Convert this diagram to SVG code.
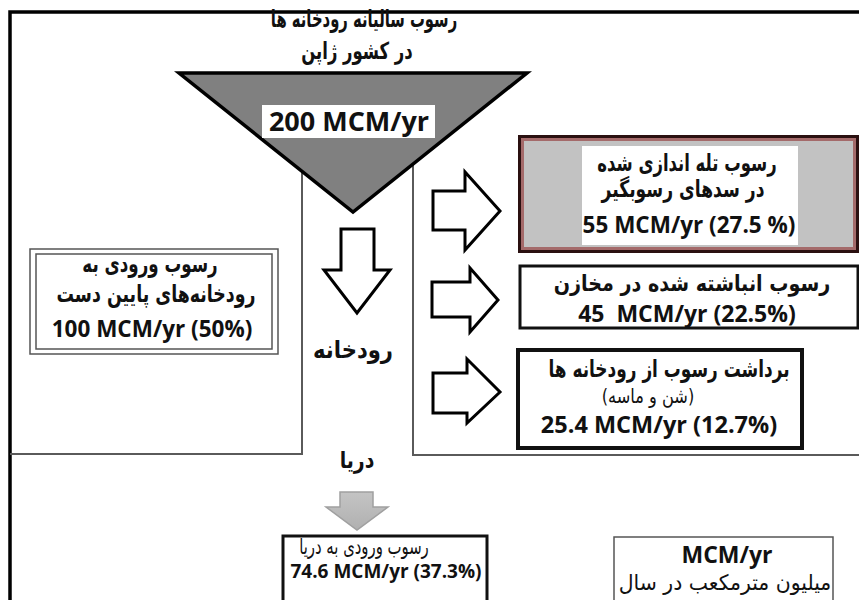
<svg xmlns="http://www.w3.org/2000/svg" width="859" height="600" viewBox="0 0 859 600">
  <defs>
    <linearGradient id="grayFlow" x1="0" y1="0" x2="0" y2="1">
      <stop offset="0" stop-color="#c4c4c4"/>
      <stop offset="1" stop-color="#b0b0b0"/>
    </linearGradient>
    <style>
      .fa { font-family: "DejaVu Sans", sans-serif; font-weight: bold; fill: #111; text-anchor: middle; }
      .fa-r { font-family: "DejaVu Sans", sans-serif; font-weight: normal; fill: #111; text-anchor: middle; }
      .num { font-family: "Open Sans", "DejaVu Sans", sans-serif; font-weight: bold; fill: #111; text-anchor: middle; }
      .box { fill: #fff; stroke: #111; }
      .thin { fill: #fff; stroke: #555; stroke-width: 1.5; }
      .arrow { fill: #fff; stroke: #000; stroke-width: 3; stroke-linejoin: miter; }
      .river { fill: none; stroke: #5a5a5a; stroke-width: 2; }
    </style>
  </defs>
  <rect width="859" height="600" fill="#fff"/>

  <!-- outer frame -->
  <path d="M10,600 V12 H859" fill="none" stroke="#000" stroke-width="3.5"/>

  <!-- river channel borders and flow arrows -->
  <g id="connectors">
    <path class="river" d="M10,454 H302 V165"/>
    <path class="river" d="M413,165 V455 H859"/>
    <polygon class="arrow" points="341,229 374,229 374,270 390,270 357,313 324,270 341,270"/>
    <polygon class="arrow" points="433,191 465,191 465,172 500,211 465,250 465,230 433,230"/>
    <polygon class="arrow" points="432,282 470,282 470,268 498,300 470,332 470,317 432,317"/>
    <polygon class="arrow" points="433,373 467,373 467,359 500,392 467,423 467,413 433,413"/>
    <polygon points="340,492 373,492 373,507 388,507 357,530 326,507 340,507" fill="url(#grayFlow)" stroke="#a0a0a0" stroke-width="1.5"/>
  </g>

  <!-- source: annual river sediment (Persian lines narrowed horizontally) -->
  <g id="source">
    <text class="fa" font-size="23.5" transform="translate(364,27) scale(0.63,1)">رسوب سالیانه رودخانه ها</text>
    <text class="fa" font-size="23.5" transform="translate(357,59) scale(0.70,1)">در کشور ژاپن</text>
    <polygon points="179,73 527,73 353,212" fill="#808080" stroke="#000" stroke-width="3.5" stroke-linejoin="miter"/>
    <rect x="262" y="105" width="173" height="33" fill="#fff"/>
    <text class="num" x="349" y="131" font-size="27">200 MCM/yr</text>
  </g>

  <!-- downstream rivers -->
  <g id="downstream">
    <rect class="thin" x="30" y="249" width="248" height="105"/>
    <rect class="thin" x="36" y="254" width="236" height="95"/>
    <text class="fa" font-size="23.5" transform="translate(150,272) scale(0.71,1)">رسوب ورودی به</text>
    <text class="fa" font-size="23.5" transform="translate(156,302) scale(0.74,1)">رودخانه‌های پایین دست</text>
    <text class="num" x="152" y="337" font-size="22.5">100 MCM/yr (50%)</text>
  </g>

  <!-- river label -->
  <g id="river-label">
    <text class="fa" font-size="24" transform="translate(353,358) scale(0.88,1)">رودخانه</text>
  </g>

  <!-- trapped in check dams -->
  <g id="check-dams">
    <rect x="519.5" y="136.5" width="338" height="115" fill="#c2c2c2" stroke="#2a1010" stroke-width="3"/>
    <rect x="522.5" y="139.5" width="332" height="109" fill="none" stroke="#a46a6a" stroke-width="3"/>
    <rect x="582" y="146" width="216" height="99" fill="#fff"/>
    <text class="fa" font-size="23.5" transform="translate(687,171) scale(0.70,1)">رسوب تله اندازی شده</text>
    <text class="fa" font-size="23.5" transform="translate(683,197) scale(0.73,1)">در سدهای رسوبگیر</text>
    <text class="num" x="689" y="233" font-size="22.5">55 MCM/yr (27.5 %)</text>
  </g>

  <!-- deposited in reservoirs -->
  <g id="reservoirs">
    <rect class="box" x="520" y="266" width="338" height="62" stroke-width="3"/>
    <text class="fa" font-size="22.5" transform="translate(692,291) scale(0.85,1)">رسوب انباشته شده در مخازن</text>
    <text class="num" x="687" y="322" font-size="23" xml:space="preserve">45  MCM/yr (22.5%)</text>
  </g>

  <!-- extraction from rivers -->
  <g id="extraction">
    <rect class="box" x="518" y="350" width="284" height="98" stroke-width="4"/>
    <text class="fa" font-size="23.5" transform="translate(669,377) scale(0.72,1)">برداشت رسوب از رودخانه ها</text>
    <text class="fa-r" font-size="20" transform="translate(648,403) scale(0.81,1)">(شن و ماسه)</text>
    <text class="num" x="659" y="433" font-size="23.5">25.4 MCM/yr (12.7%)</text>
  </g>

  <!-- sea label -->
  <g id="sea-label">
    <text class="fa" font-size="23" transform="translate(357,468) scale(0.82,1)">دریا</text>
  </g>

  <!-- inflow to sea -->
  <g id="to-sea">
    <rect class="box" x="283" y="536" width="204" height="74" stroke-width="3"/>
    <text class="fa-r" font-size="21.5" transform="translate(364,554) scale(0.69,1)">رسوب ورودی به دریا</text>
    <text class="num" x="386" y="578" font-size="19">74.6 MCM/yr (37.3%)</text>
  </g>

  <!-- unit legend -->
  <g id="legend">
    <rect class="thin" x="614" y="537" width="219" height="70"/>
    <text class="num" x="727" y="563" font-size="23">MCM/yr</text>
    <text class="fa-r" font-size="21.5" transform="translate(725,590) scale(0.95,1)">میلیون مترمکعب در سال</text>
  </g>
</svg>
